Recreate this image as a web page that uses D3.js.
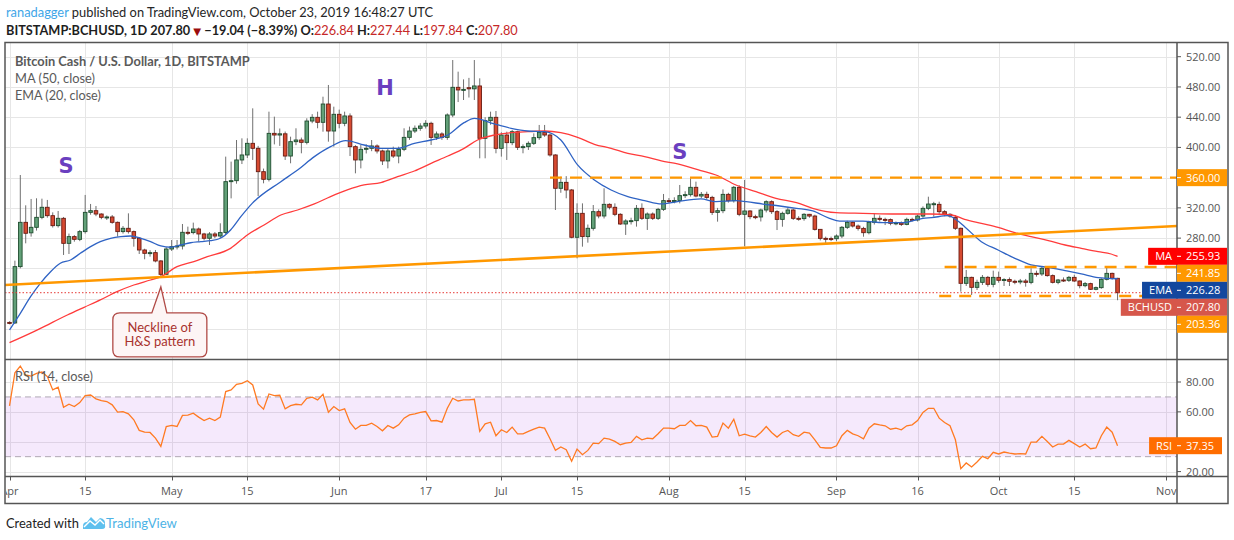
<!DOCTYPE html>
<html>
<head>
<meta charset="utf-8">
<script src="https://cdn.jsdelivr.net/npm/d3@7"></script>
<style>
  html, body { margin: 0; padding: 0; background: #fff; }
  svg { display: block; }
</style>
</head>
<body>
<svg id="chart" width="1234" height="540"></svg>
<script>
// daily candles, index 0 = 2019-04-01
var startDay = "2019-04-01";
var opens = [
  168.5, 167.8, 242.3, 300.9, 287, 294.3, 307.5, 320.8, 309.7, 296.5,
  306.2, 273.1, 282, 278.4, 288.6, 314.1, 316.3, 311.9, 307.5, 308,
  300.9, 288.6, 293, 288.6, 279.8, 264.3, 259.9, 260.8, 249.8, 232.1,
  265.6, 268.7, 269.6, 287.7, 287.3, 292.1, 285.5, 279.8, 285.5, 282.8,
  287.3, 354.7, 356, 383.4, 390, 405.4, 398.8, 367.9, 357.8, 418.6,
  416.4, 418, 388.6, 407.6, 409.8, 406.7, 434.9, 439.8, 433.2, 457.4,
  421.7, 443.8, 431.9, 441.6, 401, 383.4, 397.5, 398.8, 401.9, 395.3,
  382.1, 395.3, 388.6, 397.5, 413.3, 421.7, 425.3, 428.3, 431.9, 413.3,
  417.8, 413.3, 442.9, 479.5, 476, 479, 477.5, 481.3, 412, 435.4,
  439.8, 398.8, 416.4, 406.3, 420.8, 400.1, 401, 405.4, 412.9, 420,
  416.4, 390, 345.9, 353.8, 343.7, 281.1, 312.8, 282, 293, 315,
  309.3, 324.7, 320.8, 311.5, 298.7, 302.7, 303.1, 319.4, 306.2, 311.9,
  306.2, 318.1, 329.6, 328.8, 329.8, 336.2, 337.5, 347.2, 335.7, 337.9,
  333.9, 314.1, 316.3, 337.9, 329.5, 347.2, 311.5, 315.9, 308.4, 308,
  317.2, 328.2, 315, 304.8, 312.8, 317.2, 306.2, 305.8, 311.5, 309.2,
  291.6, 279.7, 279.4, 279.2, 282.8, 294.3, 300.9, 296, 292.9, 287.2,
  300.9, 306.2, 304.8, 304.5, 299.6, 300.2, 298.2, 304.8, 304, 309.2,
  319.4, 325.1, 324.7, 315, 311.5, 307.5, 293, 220.2, 228.1, 214.9,
  221.5, 228.1, 218.9, 228.1, 224.2, 225.2, 222.9, 222.6, 223.3, 221.5,
  233.4, 232.6, 240.1, 230.4, 221.5, 224.6, 224.2, 228.1, 223.3, 217.1,
  219.8, 212.3, 214.5, 225.5, 233.4, 226.84
];
var highs = [
  170, 250.2, 363.5, 323.4, 331.8, 332.7, 332.2, 330.5, 314.1, 315.9,
  308, 286, 284, 290.8, 337.1, 325.2, 322.5, 312.8, 310, 310.6,
  302, 296, 312.8, 290, 281, 266, 264, 264.3, 251, 268,
  277.5, 277.5, 298.7, 295.2, 300.5, 294, 287, 288, 288, 299.6,
  387.8, 381.2, 409.8, 412, 412, 451.7, 402, 372, 447.3, 440.7,
  425, 421, 414.2, 425.3, 413, 438.5, 444, 447.3, 467.1, 482.6,
  453.9, 450, 447.3, 445, 403, 403.2, 404, 409.8, 404, 397,
  398, 401, 401, 425.3, 427.5, 429, 432, 436, 434, 421,
  420, 445, 515.6, 500.2, 490, 492, 515.6, 491.4, 440, 447.3,
  448.2, 420, 420.8, 423, 422, 404, 408, 418.6, 429.7, 429.7,
  418, 391, 361.3, 362, 345, 326, 326, 298, 323.8, 318,
  345.9, 326, 326, 313, 305, 307, 323.8, 326, 314, 314,
  320, 338.4, 333, 334, 350.3, 342, 359.1, 354.7, 341, 341.4,
  336, 320, 344.5, 340, 349, 350, 357, 317, 311, 319,
  330, 330, 317, 315, 320, 319, 309, 313, 312, 311,
  292, 282, 282, 285, 296, 303, 302, 298, 295, 303,
  312.8, 310, 307, 306, 302, 302, 307, 307, 311, 322,
  334.8, 328, 328.2, 317, 313, 310.6, 294, 237.9, 229, 225,
  231.2, 230, 237, 235.7, 227, 228, 225, 226, 226, 240.1,
  237, 243.1, 242, 232, 226, 228, 230, 231.5, 224, 222,
  221, 216, 227, 243.1, 234.3, 227.44
];
var lows = [
  166, 166.5, 240, 273.1, 282, 290, 305, 307, 294, 294,
  257.7, 259, 275.3, 276, 286, 311, 309, 305, 304, 299,
  282, 286, 286, 268.7, 259, 252, 255.5, 248, 229, 231.3,
  263, 265, 265, 284, 285, 275.3, 277, 270.9, 280, 280,
  285, 332.6, 352, 378, 386, 383.4, 335.7, 352.5, 355, 404,
  402, 383.4, 379, 403, 392.2, 404, 432, 425.3, 420.8, 407.6,
  401, 425.3, 428, 388.6, 365.7, 372.3, 392, 395, 392, 376.7,
  372.3, 386, 379, 395, 410, 419, 422, 425, 403.2, 410,
  410, 410, 440, 460, 462.7, 466, 462.7, 385.6, 385.6, 430,
  392.2, 387.8, 383.4, 403, 396.6, 392.2, 396.6, 403.2, 410, 414,
  387.8, 317.2, 340, 332.7, 279.8, 253.3, 268.7, 274, 290, 306.2,
  306, 318, 309, 297.4, 284.2, 298, 295.2, 304, 290.8, 304,
  304, 316, 326, 326, 326, 333, 335, 334, 333, 331,
  310.6, 301.8, 313, 327, 327, 309, 269, 305, 305, 302,
  314, 312, 290.7, 295.1, 311, 304, 303, 303, 307, 290,
  277, 273.1, 276, 276, 280, 292, 294, 290, 281.9, 285,
  298, 302, 297.3, 297, 297, 296, 297, 302, 302, 307,
  317, 308.4, 310.6, 309, 307, 290.8, 209.2, 216.7, 204.8, 211.4,
  218, 215.8, 214.9, 221, 216.7, 216.7, 219, 219, 215.8, 219,
  229, 230, 229, 220, 219, 222, 222, 222, 213.6, 215,
  211.4, 211, 213, 224, 225, 197.84
];
var closes = [
  167.8, 242.3, 300.9, 286.4, 294.3, 307.5, 320.8, 309.7, 296.5, 306.2,
  273.1, 282, 278.4, 288.6, 314.1, 316.3, 311.9, 307.5, 308, 300.9,
  288.6, 293, 288.6, 279.8, 264.3, 259.9, 260.8, 249.8, 232.1, 265.6,
  268.7, 269.6, 287.7, 287.3, 292.1, 285.5, 279.8, 285.5, 282.8, 287.3,
  354.7, 356, 383.4, 390, 405.4, 398.8, 367.9, 357.8, 418.6, 416.4,
  418, 388.6, 407.6, 409.8, 406.7, 434.9, 439.8, 433.2, 457.4, 421.7,
  443.8, 431.9, 441.6, 401, 383.4, 397.5, 398.8, 401.9, 395.3, 382.1,
  395.3, 388.6, 397.5, 413.3, 421.7, 425.3, 428.3, 431.9, 413.3, 417.8,
  413.3, 442.9, 479.5, 476, 476.8, 477.5, 481.3, 412, 435.4, 439.8,
  398.8, 416.4, 406.3, 420.8, 400.1, 401, 405.4, 412.9, 420, 416.4,
  390, 345.9, 353.8, 343.7, 281.1, 312.8, 282, 293, 315, 309.3,
  324.7, 320.8, 311.5, 298.7, 302.7, 303.1, 319.4, 306.2, 311.9, 306.2,
  318.1, 329.6, 328.8, 329.8, 336.2, 337.5, 347.2, 335.7, 337.9, 333.9,
  314.1, 316.3, 337.9, 329.5, 347.2, 311.5, 315.9, 308.4, 308, 317.2,
  328.2, 315, 304.8, 312.8, 317.2, 306.2, 305.8, 311.5, 309.2, 291.6,
  279.7, 279.4, 279.2, 282.8, 294.3, 300.9, 296, 292.9, 287.2, 300.9,
  306.2, 304.8, 304.5, 299.6, 300.2, 298.2, 304.8, 304, 309.2, 319.4,
  325.1, 325.5, 315, 311.5, 309.3, 293, 220.2, 228.1, 214.9, 221.5,
  228.1, 218.9, 228.1, 224.2, 225.2, 222.9, 222.6, 223.3, 221.5, 233.4,
  232.6, 240.1, 230.4, 221.5, 224.6, 224.2, 228.1, 223.3, 217.1, 219.8,
  212.3, 214.5, 225.5, 233.4, 226.84, 207.8
];
// RSI(14) per day, same days as the candles
var rsi14 = [
  64, 86.2, 90.7, 84.7, 84, 85.8, 86.7, 83.6, 74.7, 76.5,
  63.1, 65.1, 63.6, 66.2, 70.9, 71.3, 68.7, 67.6, 66.9, 64.7,
  59.8, 60.2, 58.7, 54.7, 47.6, 46.4, 46.2, 42.4, 36.9, 50.2,
  50.9, 50.2, 57.6, 57.8, 59.1, 56.5, 54.2, 55.8, 54.2, 56.5,
  73.6, 74.7, 78.4, 79.1, 80.9, 78, 65.3, 61.8, 72, 70.9,
  71.1, 62, 64.2, 65.1, 64.7, 69.1, 69.8, 68, 71.8, 59.8,
  63.6, 60.9, 62, 52.9, 48.4, 50.9, 50.9, 52.4, 50.2, 47.3,
  50.9, 49.1, 51.3, 55.8, 58, 58.7, 59.6, 60.2, 54, 54.2,
  53.1, 62.4, 69.1, 67.3, 68, 68, 68.4, 46.9, 52, 53.1,
  44, 48, 46.2, 49.8, 45.3, 45.3, 46.9, 48.4, 49.8, 49.1,
  42, 34.2, 36.5, 34.7, 26.9, 35.1, 31.3, 34.2, 39.1, 38.7,
  42.4, 41.8, 40.2, 38, 39.1, 39.6, 43.6, 41.3, 42.4, 42,
  45.3, 49.1, 49.1, 48.7, 50.9, 50.9, 54.2, 50.7, 50.9, 49.8,
  43.1, 43.6, 52.5, 49.1, 55.1, 44, 45.1, 44, 43.1, 46.2,
  50.2, 46.2, 43.1, 46.2, 47.6, 44.7, 43.6, 46.4, 45.8, 41.3,
  36.2, 35.8, 35.8, 37.3, 44, 47.6, 45.3, 44, 42, 49.1,
  52, 51.3, 50.7, 48.4, 49.1, 48, 50.7, 51.3, 54.2, 59.6,
  62.4, 62.4, 55.8, 52.9, 50.7, 41.3, 22, 25.8, 23.1, 26.4,
  30.2, 28.7, 32.9, 31.8, 33.1, 32.4, 31.8, 32, 31.8, 39.8,
  39.8, 43.6, 40.2, 36.5, 38.4, 38.4, 40.9, 38.7, 36.5, 38.4,
  35.3, 35.8, 44, 49.8, 46.4, 37.35
];
// indicator lines: [days after startDay, value]
var ma50 = [
  [0, 141.7], [4.5, 156.3], [7.6, 167.3], [10.7, 178.3], [13.8, 188.5], [16.8, 198.2],
  [19.9, 209.2], [23, 218], [26.1, 224.6], [28, 229], [31, 242.2], [34.1, 248.9],
  [36.6, 255.4], [40.9, 266.5], [44, 284.2], [47.1, 297.4], [50.2, 310.6], [53.3, 317.2],
  [56.4, 325.2], [59.4, 334.9], [62.5, 343.7], [65.6, 350.3], [68.7, 353.4], [71.8, 361.3],
  [74.9, 368.8], [78, 378.9], [81.1, 388.6], [84.1, 398.8], [86.6, 409.8], [89.7, 416.4],
  [92.8, 419.5], [95.9, 420.8], [99, 421.7], [102, 419.5], [105.1, 413.3], [108.2, 404.1],
  [111.3, 398.8], [114.4, 392.2], [117.5, 387.8], [120.6, 382.1], [123.6, 378.1], [127.9, 369.3],
  [130.7, 363.5], [134.4, 350.3], [138.1, 341.4], [141.8, 332.6], [145.6, 326.9], [148.6, 319.4],
  [152.9, 313.7], [157.9, 312.8], [164.1, 311.9], [170.3, 311.9], [174.3, 310.6], [176.7, 304.9],
  [179.8, 299.6], [182.9, 294.3], [186, 287.2], [189, 281.9], [192.2, 276.7], [195.3, 270.9],
  [198.3, 266.5], [201.4, 262.1], [203.8, 259], [205, 255.93]
];
var ema20 = [
  [0, 158.5], [2, 180.5], [3.9, 202.6], [5.7, 220.2], [7.6, 235.6], [9.4, 246.7],
  [11.3, 251.1], [13.1, 259.9], [15, 268.7], [16.8, 275.3], [18.7, 279.8], [20.6, 282],
  [22.4, 282.8], [24.3, 279.8], [26.1, 275.3], [28, 269.6], [29.8, 267.9], [31.7, 270.9],
  [33.5, 273.9], [35.4, 275.3], [37.2, 276.6], [39, 279.8], [40.9, 290.8], [42.8, 308.4],
  [44.9, 326], [50.2, 354.7], [53.3, 370.1], [56.4, 387.8], [59.4, 401], [62.2, 408.9],
  [65.6, 403.2], [68.7, 398.8], [71.8, 398.8], [74.9, 405.4], [78, 409.8], [81.1, 416.4],
  [84.1, 432.7], [86, 438.5], [89.7, 431], [92.8, 425.3], [95.9, 421.7], [99, 420.8],
  [102, 409.8], [105.1, 376.8], [108.2, 356.9], [111.3, 343.7], [114.4, 334.9], [117.5, 329.6],
  [120.6, 325.2], [123.6, 328.3], [127.9, 331.8], [130.7, 328.2], [134.4, 329.5], [136.3, 328.2],
  [139.4, 325.1], [142.5, 322.5], [145.6, 319.4], [148.6, 315.9], [151.7, 306.2], [153.6, 302.6],
  [157.9, 302.6], [161.6, 300.4], [165.3, 300.4], [169, 306.2], [170.6, 307.1], [173.6, 309.7],
  [175.2, 304], [176.7, 295.2], [179.8, 275.3], [182.9, 264.3], [186, 253.3], [189, 244.5],
  [192.2, 241.4], [195.3, 237], [198.3, 232.6], [201.4, 227.7], [205, 226.28]
];
var maLast = 255.93;
var emaLast = 226.28;
var rsiLast = 37.35;

// drawings on the chart
var trendDates = ["2019-03-31", "2019-11-03"];
var trendPrices = [218.0, 296.1];
var levelPrices = [360.00, 241.85, 203.36];
var levelStarts = ["2019-07-10", "2019-09-21", "2019-09-20"];
var patternText = ["S", "H", "S"];
var patternDays = [10.45, 69.5, 124];
var patternPrices = [375.4, 478.2, 394.3];
var calloutDay = 28;
var calloutPrice = 215.4;
var calloutLines = ["Neckline of", "H&S pattern"];

// axes
var tickDates = ["2019-04-01", "2019-04-15", "2019-05-01", "2019-05-15", "2019-06-01",
  "2019-06-17", "2019-07-01", "2019-07-15", "2019-08-01", "2019-08-15", "2019-09-01",
  "2019-09-16", "2019-10-01", "2019-10-15", "2019-11-01"];
var tickLabels = ["Apr", "15", "May", "15", "Jun", "17", "Jul", "15", "Aug", "15",
  "Sep", "16", "Oct", "15", "Nov"];
var priceTicks = [520, 480, 440, 400, 360, 320, 280, 240, 200, 160];
var rsiTicks = [80, 60, 40, 20];
var rsiBand = [30, 70];

// ---- layout (note: "top" is taken by window.top, so pane edges get own names)
var paneLeft = 5, axisX = 1177, frameRight = 1228;
var paneTop = 42.5, paneSep = 359.5, rsiBottom = 476.5, frameBottom = 503.5;
var axisFont = "'Open Sans', 'Liberation Sans', sans-serif";
var textFont = "Lato, 'Liberation Sans', sans-serif";

var svg = d3.select("#chart");
var parseDay = d3.utcParse("%Y-%m-%d");
var t0 = parseDay(startDay).getTime();
function dayDate(d) { return new Date(t0 + d * 864e5); }

var x = d3.scaleUtc()
  .domain([parseDay("2019-04-01"), parseDay("2019-11-01")])
  .range([9.5, 1166.2]);
var y = d3.scaleLinear().domain([200, 520]).range([298.6, 56.7]);
var yr = d3.scaleLinear().domain([20, 80]).range([471.6, 382]);

var defs = svg.append("defs");
defs.append("clipPath").attr("id", "clipPrice").append("rect")
  .attr("x", paneLeft).attr("y", paneTop).attr("width", axisX - paneLeft).attr("height", paneSep - paneTop);
defs.append("clipPath").attr("id", "clipRsi").append("rect")
  .attr("x", paneLeft).attr("y", paneSep).attr("width", axisX - paneLeft).attr("height", rsiBottom - paneSep);
defs.append("clipPath").attr("id", "clipTime").append("rect")
  .attr("x", paneLeft + 1).attr("y", rsiBottom).attr("width", axisX - paneLeft - 1).attr("height", frameBottom - rsiBottom);

// ---- grid
var grid = svg.append("g").attr("stroke", "#e6e6e6").attr("stroke-width", 1);
grid.selectAll("line.vg").data(tickDates).join("line").attr("class", "vg")
  .attr("x1", function(d) { return Math.round(x(parseDay(d))) + 0.5; })
  .attr("x2", function(d) { return Math.round(x(parseDay(d))) + 0.5; })
  .attr("y1", paneTop).attr("y2", rsiBottom);
grid.selectAll("line.pg").data(priceTicks).join("line").attr("class", "pg")
  .attr("x1", paneLeft).attr("x2", axisX)
  .attr("y1", function(d) { return Math.round(y(d)) + 0.5; })
  .attr("y2", function(d) { return Math.round(y(d)) + 0.5; });
grid.selectAll("line.rg").data(rsiTicks).join("line").attr("class", "rg")
  .attr("x1", paneLeft).attr("x2", axisX)
  .attr("y1", function(d) { return Math.round(yr(d)) + 0.5; })
  .attr("y2", function(d) { return Math.round(yr(d)) + 0.5; });

// ---- RSI pane
var rsiG = svg.append("g").attr("clip-path", "url(#clipRsi)");
rsiG.append("rect")
  .attr("x", paneLeft).attr("width", axisX - paneLeft)
  .attr("y", yr(rsiBand[1])).attr("height", yr(rsiBand[0]) - yr(rsiBand[1]))
  .attr("fill", "rgba(155, 39, 230, 0.1)");
rsiG.selectAll("line.band").data(rsiBand).join("line").attr("class", "band")
  .attr("x1", paneLeft).attr("x2", axisX)
  .attr("y1", function(d) { return yr(d); }).attr("y2", function(d) { return yr(d); })
  .attr("stroke", "#b0a8b4").attr("stroke-width", 1).attr("stroke-dasharray", "6,4");
rsiG.append("path")
  .datum(rsi14.map(function(v, i) { return [i, v]; }))
  .attr("fill", "none").attr("stroke", "#ff7a22").attr("stroke-width", 1.3)
  .attr("d", d3.line().x(function(p) { return x(dayDate(p[0])); }).y(function(p) { return yr(p[1]); }));

// ---- price pane
var candles = opens.map(function(o, i) {
  return { date: dayDate(i), o: o, h: highs[i], l: lows[i], c: closes[i] };
});
var pg = svg.append("g").attr("clip-path", "url(#clipPrice)");
var cw = 3.6;
pg.selectAll("line.wick").data(candles).join("line").attr("class", "wick")
  .attr("x1", function(d) { return x(d.date); }).attr("x2", function(d) { return x(d.date); })
  .attr("y1", function(d) { return y(d.h); }).attr("y2", function(d) { return y(d.l); })
  .attr("stroke", "#707070").attr("stroke-width", 1);
pg.selectAll("rect.body").data(candles).join("rect").attr("class", "body")
  .attr("x", function(d) { return x(d.date) - cw / 2; })
  .attr("y", function(d) { return y(Math.max(d.o, d.c)); })
  .attr("width", cw)
  .attr("height", function(d) { return Math.max(1, Math.abs(y(d.o) - y(d.c))); })
  .attr("fill", function(d) { return d.c >= d.o ? "#62a078" : "#d64a31"; })
  .attr("stroke", function(d) { return d.c >= d.o ? "#1f4d2f" : "#6a1b12"; })
  .attr("stroke-width", 0.9);

var indLine = d3.line()
  .x(function(p) { return x(dayDate(p[0])); })
  .y(function(p) { return y(p[1]); })
  .curve(d3.curveMonotoneX);
pg.append("path").datum(ma50).attr("fill", "none")
  .attr("stroke", "#ff3b3b").attr("stroke-width", 1.3).attr("d", indLine);
pg.append("path").datum(ema20).attr("fill", "none")
  .attr("stroke", "#2f63c4").attr("stroke-width", 1.3).attr("d", indLine);

// last price line
pg.append("line")
  .attr("x1", paneLeft).attr("x2", axisX)
  .attr("y1", y(closes[closes.length - 1])).attr("y2", y(closes[closes.length - 1]))
  .attr("stroke", "#e53935").attr("stroke-width", 1).attr("stroke-dasharray", "1.5,2");

// neckline
pg.append("line")
  .attr("x1", x(parseDay(trendDates[0]))).attr("x2", x(parseDay(trendDates[1])))
  .attr("y1", y(trendPrices[0])).attr("y2", y(trendPrices[1]))
  .attr("stroke", "#ff9800").attr("stroke-width", 2.6);

// horizontal levels
pg.selectAll("line.level").data(levelPrices).join("line").attr("class", "level")
  .attr("x1", function(d, i) { return x(parseDay(levelStarts[i])); })
  .attr("x2", axisX)
  .attr("y1", function(d) { return y(d); }).attr("y2", function(d) { return y(d); })
  .attr("stroke", "#ff9800").attr("stroke-width", 2.4).attr("stroke-dasharray", "12,8");

// S H S letters
pg.selectAll("text.pat").data(patternText).join("text").attr("class", "pat")
  .attr("x", function(d, i) { return x(dayDate(patternDays[i])); })
  .attr("y", function(d, i) { return y(patternPrices[i]); })
  .attr("text-anchor", "middle").attr("dominant-baseline", "central")
  .attr("font-family", "'DejaVu Sans', sans-serif").attr("font-weight", "bold")
  .attr("font-size", 21).attr("fill", "#6a3fbf")
  .text(function(d) { return d; });

// callout
var tx = x(dayDate(calloutDay)), ty = y(calloutPrice);
var bl = tx - 48, br = tx + 46, bt = ty + 26, bb = ty + 70, r = 7;
var cpath = "M" + (bl + r) + "," + bt +
  " L" + (tx - 9) + "," + bt + " L" + tx + "," + ty + " L" + (tx + 6) + "," + bt +
  " L" + (br - r) + "," + bt + " Q" + br + "," + bt + " " + br + "," + (bt + r) +
  " L" + br + "," + (bb - r) + " Q" + br + "," + bb + " " + (br - r) + "," + bb +
  " L" + (bl + r) + "," + bb + " Q" + bl + "," + bb + " " + bl + "," + (bb - r) +
  " L" + bl + "," + (bt + r) + " Q" + bl + "," + bt + " " + (bl + r) + "," + bt + " Z";
svg.append("path").attr("d", cpath)
  .attr("fill", "#fdf5f5").attr("stroke", "#b04a46").attr("stroke-width", 1.3);
svg.selectAll("text.callout").data(calloutLines).join("text").attr("class", "callout")
  .attr("x", (bl + br) / 2)
  .attr("y", function(d, i) { return bt + 19 + i * 14; })
  .attr("text-anchor", "middle")
  .attr("font-family", textFont).attr("font-size", 13).attr("fill", "#a8322e")
  .text(function(d) { return d; });

// ---- frame
var frame = svg.append("g").attr("stroke", "#555").attr("stroke-width", 1.5).attr("fill", "none");
frame.append("rect").attr("x", paneLeft).attr("y", paneTop)
  .attr("width", frameRight - paneLeft).attr("height", frameBottom - paneTop);
frame.append("line").attr("x1", paneLeft).attr("x2", frameRight).attr("y1", paneSep).attr("y2", paneSep);
frame.append("line").attr("x1", paneLeft).attr("x2", frameRight).attr("y1", rsiBottom).attr("y2", rsiBottom);
frame.append("line").attr("x1", axisX).attr("x2", axisX).attr("y1", paneTop).attr("y2", frameBottom);

// ---- time axis
var timeG = svg.append("g").attr("clip-path", "url(#clipTime)");
timeG.selectAll("line.tt").data(tickDates).join("line").attr("class", "tt")
  .attr("x1", function(d) { return Math.round(x(parseDay(d))) + 0.5; })
  .attr("x2", function(d) { return Math.round(x(parseDay(d))) + 0.5; })
  .attr("y1", rsiBottom).attr("y2", rsiBottom + 4)
  .attr("stroke", "#555");
timeG.selectAll("text.tl").data(tickDates).join("text").attr("class", "tl")
  .attr("x", function(d) { return x(parseDay(d)); })
  .attr("y", 495)
  .attr("text-anchor", "middle")
  .attr("font-family", axisFont).attr("font-size", 11).attr("fill", "#555")
  .text(function(d, i) { return tickLabels[i]; });

// ---- price scale with tags
var fmt = d3.format(".2f");
var tags = [
  { v: maLast, name: "MA", fill: "#ff0000" },
  { v: levelPrices[1], fill: "#ff9800" },
  { v: emaLast, name: "EMA", fill: "#12479e" },
  { v: closes[closes.length - 1], name: "BCHUSD", fill: "#d6574b" },
  { v: levelPrices[2], fill: "#ff9800" }
].sort(function(a, b) { return b.v - a.v; });
var prev = -Infinity;
tags.forEach(function(t) { t.y = Math.max(y(t.v), prev + 17); prev = t.y; });
tags.push({ v: levelPrices[0], fill: "#ff9800", y: y(levelPrices[0]) });

var visibleTicks = priceTicks.filter(function(p) {
  return tags.every(function(t) { return Math.abs(t.y - y(p)) > 14; });
});
var axG = svg.append("g");
axG.selectAll("line.pt").data(visibleTicks).join("line").attr("class", "pt")
  .attr("x1", axisX).attr("x2", axisX + 4)
  .attr("y1", function(d) { return y(d); }).attr("y2", function(d) { return y(d); })
  .attr("stroke", "#555");
axG.selectAll("text.pl").data(visibleTicks).join("text").attr("class", "pl")
  .attr("x", 1186).attr("y", function(d) { return y(d) + 4; })
  .attr("font-family", axisFont).attr("font-size", 11).attr("fill", "#555")
  .text(function(d) { return fmt(d); });

function drawTag(g, t, boxRight) {
  g.append("rect").attr("x", axisX).attr("y", t.y - 8.5)
    .attr("width", boxRight - axisX).attr("height", 17).attr("fill", t.fill);
  g.append("line").attr("x1", axisX).attr("x2", axisX + 4).attr("y1", t.y).attr("y2", t.y)
    .attr("stroke", "#fff");
  g.append("text").attr("x", 1186).attr("y", t.y + 4)
    .attr("font-family", axisFont).attr("font-size", 11).attr("fill", "#fff")
    .text(fmt(t.v));
  if (t.name) {
    var lt = g.append("text").attr("x", 1172).attr("y", t.y + 4).attr("text-anchor", "end")
      .attr("font-family", axisFont).attr("font-size", 11).attr("fill", "#fff")
      .text(t.name);
    var w = lt.node().getComputedTextLength();
    g.insert("rect", "text:last-child").attr("x", 1172 - w - 7).attr("y", t.y - 8.5)
      .attr("width", axisX - (1172 - w - 7)).attr("height", 17).attr("fill", t.fill);
  }
}
tags.forEach(function(t) { drawTag(svg.append("g"), t, 1227); });

// RSI scale
var rsiTagY = yr(rsiLast);
var visibleRsi = rsiTicks.filter(function(v) { return Math.abs(yr(v) - rsiTagY) > 14; });
axG.selectAll("line.rt").data(visibleRsi).join("line").attr("class", "rt")
  .attr("x1", axisX).attr("x2", axisX + 4)
  .attr("y1", function(d) { return yr(d); }).attr("y2", function(d) { return yr(d); })
  .attr("stroke", "#555");
axG.selectAll("text.rl").data(visibleRsi).join("text").attr("class", "rl")
  .attr("x", 1186).attr("y", function(d) { return yr(d) + 4; })
  .attr("font-family", axisFont).attr("font-size", 11).attr("fill", "#555")
  .text(function(d) { return fmt(d); });
drawTag(svg.append("g"), { v: rsiLast, name: "RSI", fill: "#ff6d00", y: rsiTagY }, 1222);

// ---- titles
function fitText(sel, width) {
  // scale font size so the text covers the same width as in the screenshot
  var base = +sel.attr("font-size");
  var w = sel.node().getComputedTextLength();
  sel.attr("font-size", (base * width / w).toFixed(2));
  return sel;
}
var titleSpecs = [
  ["Bitcoin Cash / U.S. Dollar, 1D, BITSTAMP", 66, 235, 700],
  ["MA (50, close)", 83, 80, 400],
  ["EMA (20, close)", 100, 86, 400],
  ["RSI (14, close)", 381, 78, 400]
];
titleSpecs.forEach(function(s) {
  fitText(svg.append("text").attr("x", 15).attr("y", s[1])
    .attr("font-family", textFont).attr("font-size", 14).attr("font-weight", s[3]).attr("fill", "#5a5a5a")
    .text(s[0]), s[2]);
});

// header
var h1 = svg.append("text").attr("x", 6).attr("y", 17)
  .attr("font-family", textFont).attr("font-size", 15).attr("fill", "#262626");
h1.append("tspan").attr("fill", "#3fa6e8").text("ranadagger");
h1.append("tspan").text(" published on TradingView.com, October 23, 2019 16:48:27 UTC");
fitText(h1, 427);

var last = closes.length - 1;
var chg = closes[last - 1] - closes[last];
var h2 = svg.append("text").attr("x", 6).attr("y", 35)
  .attr("font-family", textFont).attr("font-size", 15).attr("fill", "#1e1e1e");
h2.append("tspan").attr("font-weight", 700).text("BITSTAMP:BCHUSD, 1D  " + fmt(closes[last]) + " ");
h2.append("tspan").attr("fill", "#9b0d0d").attr("font-family", "'DejaVu Sans', sans-serif")
  .attr("font-size", "0.8em").text("\u25BC");
h2.append("tspan").attr("font-weight", 700)
  .text(" \u2212" + fmt(chg) + " (\u2212" + fmt(chg / closes[last - 1] * 100) + "%) ");
var ohlc = [["O:", opens], ["H:", highs], ["L:", lows], ["C:", closes]];
ohlc.forEach(function(p, i) {
  h2.append("tspan").attr("font-weight", 700).text((i ? " " : "") + p[0]);
  h2.append("tspan").attr("fill", "#c62828").text(fmt(p[1][last]));
});
fitText(h2, 512);

// footer
fitText(svg.append("text").attr("x", 6).attr("y", 528)
  .attr("font-family", textFont).attr("font-size", 14).attr("fill", "#222")
  .text("Created with"), 73);
svg.append("path")
  .attr("d", "M83,529 L83,526 Q83,522 87,522 L91,517 L96,522 L100,518 Q106,519 105,525 Q106,529 102,529 Z")
  .attr("fill", "#5ec0ee");
svg.append("path")
  .attr("d", "M84,527 L90,521 L95,525 L100,520 L104,524")
  .attr("fill", "none").attr("stroke", "#fff").attr("stroke-width", 1.4);
fitText(svg.append("text").attr("x", 106).attr("y", 528)
  .attr("font-family", textFont).attr("font-size", 14).attr("fill", "#4db3e6")
  .text("TradingView"), 71);
</script>
</body>
</html>
